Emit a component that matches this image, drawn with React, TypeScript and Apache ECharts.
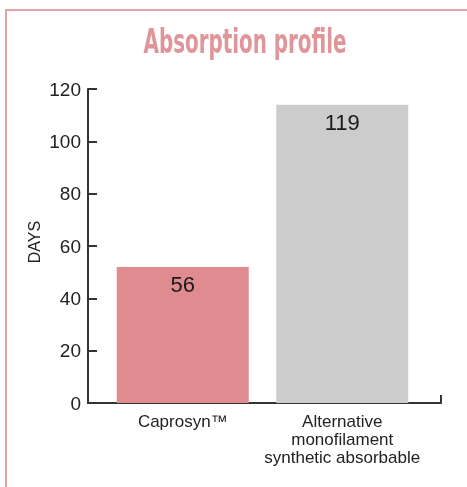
import React, { useEffect, useRef } from "react";
import * as echarts from "echarts";

const categories = ["Caprosyn™", "Alternative\nmonofilament\nsynthetic absorbable"];
const barHeights = [52, 114];
const valueLabels = ["56", "119"];
const barColors = ["#df8b8f", "#cccccc"];
const yMin = 0;
const yMax = 120;
const yInterval = 20;
const titleText = "Absorption profile";
const axisName = "DAYS";

export default function App() {
  const ref = useRef<HTMLDivElement>(null);
  useEffect(() => {
    const el = ref.current!;
    const chart = echarts.init(el, null, { renderer: "svg" });
    const titleFamily = "'Liberation Sans Narrow', 'DejaVu Sans Condensed', sans-serif";
    const titleSize = 33;
    let scaleX = 1;
    try {
      const c = document.createElement("canvas").getContext("2d");
      if (c) {
        c.font = `bold ${titleSize}px ${titleFamily}`;
        const w = c.measureText(titleText).width;
        if (w > 0) scaleX = 203 / w;
      }
    } catch (e) {}
    const axisColor = "#333";
    chart.setOption({
      animation: false,
      grid: [
        { left: 88, right: 26, top: 89, bottom: 84 },
        { left: 103, right: 45, top: 89, bottom: 84 },
      ],
      xAxis: [
        {
          gridIndex: 0,
          type: "value",
          min: 0,
          max: 1,
          interval: 1,
          axisLine: { show: true, lineStyle: { color: axisColor, width: 2 } },
          axisTick: { show: true, inside: true, length: 8, lineStyle: { color: axisColor, width: 2 } },
          axisLabel: { show: false },
          splitLine: { show: false },
        },
        {
          gridIndex: 1,
          type: "category",
          data: categories,
          axisLine: { show: false },
          axisTick: { show: false },
          axisLabel: {
            interval: 0,
            fontSize: 17,
            lineHeight: 18,
            color: "#222",
            fontFamily: "'Liberation Sans', Arial, sans-serif",
            margin: 9,
          },
        },
      ],
      yAxis: [
        {
          gridIndex: 0,
          type: "value",
          min: yMin,
          max: yMax,
          interval: yInterval,
          axisLine: { show: true, lineStyle: { color: axisColor, width: 2 } },
          axisTick: { show: true, inside: true, length: 9, lineStyle: { color: axisColor, width: 2 } },
          axisLabel: {
            fontSize: 19,
            color: "#222",
            margin: 7,
            fontFamily: "'Liberation Sans', Arial, sans-serif",
          },
          splitLine: { show: false },
        },
        { gridIndex: 1, type: "value", min: yMin, max: yMax, show: false },
      ],
      series: [
        {
          type: "bar",
          xAxisIndex: 1,
          yAxisIndex: 1,
          barWidth: 132,
          data: barHeights.map((v, i) => ({
            value: v,
            itemStyle: { color: barColors[i] },
            label: { formatter: valueLabels[i] },
          })),
          label: {
            show: true,
            position: "insideTop",
            distance: 7,
            fontSize: 22,
            color: "#1a1a1a",
            fontFamily: "'Liberation Sans', Arial, sans-serif",
          },
        },
      ],
      graphic: [
        {
          type: "polyline",
          shape: { points: [[6, 487], [6, 10], [467, 10]] },
          style: { stroke: "#e4a3a6", lineWidth: 2, fill: "none" },
          silent: true,
        },
        {
          type: "text",
          x: 245,
          y: 41.5,
          scaleX: scaleX,
          style: {
            text: titleText,
            fill: "#e0959a",
            font: `bold ${titleSize}px ${titleFamily}`,
            align: "center",
            verticalAlign: "middle",
          },
        },
        {
          type: "text",
          x: 34,
          y: 242,
          rotation: Math.PI / 2,
          style: {
            text: axisName,
            fill: "#222",
            font: "16px 'Liberation Sans', Arial, sans-serif",
            align: "center",
            verticalAlign: "middle",
          },
        },
      ],
    });
    return () => chart.dispose();
  }, []);
  return <div ref={ref} style={{ position: "fixed", left: 0, top: 0, width: 467, height: 487 }} />;
}
